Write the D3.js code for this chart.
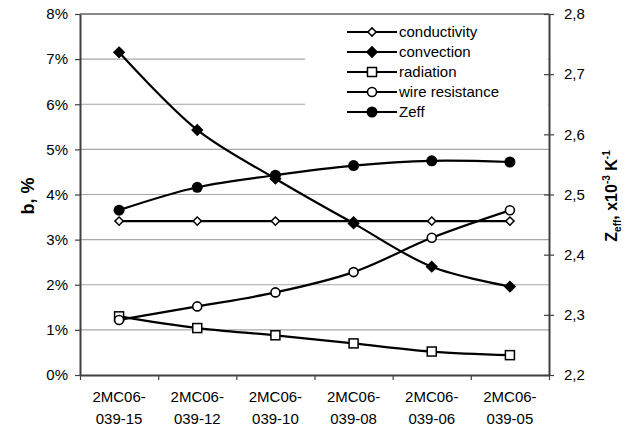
<!DOCTYPE html>
<html>
<head>
<meta charset="utf-8">
<script src="https://cdn.jsdelivr.net/npm/d3@7"></script>
<style>
  body { margin: 0; background: #fff; }
  text { font-family: "Liberation Sans", Arial, sans-serif; fill: #000; }
</style>
</head>
<body>
<div id="chart"></div>
<script>
// samples on the x axis
var categories = ["2MC06-039-15", "2MC06-039-12", "2MC06-039-10", "2MC06-039-08", "2MC06-039-06", "2MC06-039-05"];

// b, % (left axis)
var conductivity = [3.41, 3.41, 3.41, 3.41, 3.41, 3.41];
var convection = [7.15, 5.43, 4.35, 3.36, 2.40, 1.96];
var radiation = [1.30, 1.04, 0.88, 0.70, 0.52, 0.44];
var wireResistance = [1.22, 1.52, 1.83, 2.28, 3.04, 3.65];

// Zeff, x10^-3 K^-1 (right axis)
var zeff = [2.474, 2.512, 2.532, 2.548, 2.556, 2.554];

var leftTicks = [0, 1, 2, 3, 4, 5, 6, 7, 8];
var rightTicks = [2.2, 2.3, 2.4, 2.5, 2.6, 2.7, 2.8];

var width = 629, height = 432;
var margin = {top: 14, right: 80, bottom: 57, left: 80};

var svg = d3.select("#chart").append("svg")
    .attr("width", width)
    .attr("height", height);

var x = d3.scaleBand()
    .domain(categories)
    .range([margin.left, width - margin.right]);
var xEdges = d3.scaleLinear()
    .domain([0, categories.length])
    .range([margin.left, width - margin.right]);
var y = d3.scaleLinear()
    .domain([0, 8])
    .range([height - margin.bottom, margin.top]);
var y2 = d3.scaleLinear()
    .domain([2.2, 2.8])
    .range([height - margin.bottom, margin.top]);

function cx(d, i) { return x(categories[i]) + x.bandwidth() / 2; }

//horizontal grid lines
svg.append("g").selectAll("line")
    .data(leftTicks.filter(d => d > 0 && d < 8))
    .enter().append("line")
    .attr("x1", margin.left).attr("x2", width - margin.right)
    .attr("y1", d => y(d)).attr("y2", d => y(d))
    .attr("stroke", "#a6a6a6").attr("stroke-width", 1.2);

//top border of the plot area
svg.append("line")
    .attr("x1", margin.left).attr("x2", width - margin.right)
    .attr("y1", y(8)).attr("y2", y(8))
    .attr("stroke", "#888").attr("stroke-width", 2);

//legend box covers the grid behind it
svg.append("rect")
    .attr("x", 305).attr("y", 22)
    .attr("width", width - margin.right - 306).attr("height", 100)
    .attr("fill", "#fff");

function styleAxis(g) {
    g.select(".domain").attr("stroke", "#404040").attr("stroke-width", 2);
    g.selectAll(".tick line").attr("stroke", "#404040").attr("stroke-width", 1.2);
    g.selectAll(".tick text").style("font-size", "15px");
}

var leftAxis = svg.append("g")
    .attr("transform", "translate(" + margin.left + ",0)")
    .call(d3.axisLeft(y).tickValues(leftTicks).tickSize(5).tickSizeOuter(0).tickPadding(7)
        .tickFormat(d => d + "%"))
    .call(styleAxis);

var rightAxis = svg.append("g")
    .attr("transform", "translate(" + (width - margin.right) + ",0)")
    .call(d3.axisRight(y2).tickValues(rightTicks).tickSize(5).tickSizeOuter(0).tickPadding(10)
        .tickFormat(d => d3.format(".1f")(d).replace(".", ",")))
    .call(styleAxis);
rightAxis.selectAll(".tick line").attr("x1", -5);

var bottomAxis = svg.append("g")
    .attr("transform", "translate(0," + (height - margin.bottom) + ")")
    .call(d3.axisBottom(xEdges).ticks(categories.length).tickSize(5).tickSizeOuter(0).tickFormat(""))
    .call(styleAxis);

//two line category labels
var labels = svg.append("g")
    .attr("transform", "translate(0," + (height - margin.bottom) + ")")
    .call(d3.axisBottom(x).tickSize(0).tickFormat(""));
labels.select(".domain").remove();
labels.selectAll(".tick").append("text")
    .attr("text-anchor", "middle")
    .style("font-size", "15px")
    .each(function(d) {
        var k = d.indexOf("-");
        var t = d3.select(this);
        t.append("tspan").attr("x", 0).attr("y", 27).text(d.slice(0, k + 1));
        t.append("tspan").attr("x", 0).attr("y", 49).text(d.slice(k + 1));
    });

//axis titles
svg.append("text")
    .attr("transform", "translate(34,196) rotate(-90)")
    .attr("text-anchor", "middle")
    .style("font-size", "18px")
    .style("font-weight", "bold")
    .text("b, %");

var rt = svg.append("text")
    .attr("transform", "translate(617,196) rotate(-90)")
    .attr("text-anchor", "middle")
    .style("font-size", "16px")
    .style("font-weight", "bold");
rt.append("tspan").text("Z");
rt.append("tspan").attr("dy", 4).style("font-size", "10px").text("eff");
rt.append("tspan").attr("dy", -4).text(", x10");
rt.append("tspan").attr("dy", -7).style("font-size", "10px").text("-3");
rt.append("tspan").attr("dy", 7).text(" K");
rt.append("tspan").attr("dy", -7).style("font-size", "10px").text("-1");

//marker drawing
function marker(sel, type) {
    if (type == "diamondOpen" || type == "diamondFilled") {
        var s = type == "diamondOpen" ? 34 : 52;
        sel.append("path")
            .attr("d", d3.symbol(d3.symbolSquare, s)())
            .attr("transform", "rotate(45)")
            .attr("fill", type == "diamondOpen" ? "#fff" : "#000")
            .attr("stroke", "#000").attr("stroke-width", 1.5);
    } else if (type == "square") {
        sel.append("rect")
            .attr("x", -4.5).attr("y", -4.5).attr("width", 9).attr("height", 9)
            .attr("fill", "#fff").attr("stroke", "#000").attr("stroke-width", 1.5);
    } else if (type == "circleOpen") {
        sel.append("circle").attr("r", 4.5)
            .attr("fill", "#fff").attr("stroke", "#000").attr("stroke-width", 1.6);
    } else {
        sel.append("circle").attr("r", 5.5).attr("fill", "#000");
    }
}

var series = [
    {name: "conductivity", values: conductivity, scale: y, type: "diamondOpen"},
    {name: "convection", values: convection, scale: y, type: "diamondFilled"},
    {name: "radiation", values: radiation, scale: y, type: "square"},
    {name: "wire resistance", values: wireResistance, scale: y, type: "circleOpen"},
    {name: "Zeff", values: zeff, scale: y2, type: "circleFilled"}
];

series.forEach(function(s) {
    var line = d3.line()
        .x(cx)
        .y(d => s.scale(d))
        .curve(d3.curveCatmullRom.alpha(0.5));
    svg.append("path")
        .datum(s.values)
        .attr("d", line)
        .attr("fill", "none")
        .attr("stroke", "#000")
        .attr("stroke-width", 2.2);
    svg.append("g").selectAll("g")
        .data(s.values)
        .enter().append("g")
        .attr("transform", (d, i) => "translate(" + cx(d, i) + "," + s.scale(d) + ")")
        .each(function() { marker(d3.select(this), s.type); });
});

//legend
var legend = svg.append("g").attr("transform", "translate(347,32)");
series.forEach(function(s, i) {
    var row = legend.append("g").attr("transform", "translate(0," + (i * 20) + ")");
    row.append("line")
        .attr("x1", 0).attr("x2", 50)
        .attr("stroke", "#000").attr("stroke-width", 2.2);
    var m = row.append("g").attr("transform", "translate(25,0)");
    marker(m, s.type);
    row.append("text")
        .attr("x", 52).attr("y", 5)
        .style("font-size", "15px")
        .text(s.name);
});
</script>
</body>
</html>
